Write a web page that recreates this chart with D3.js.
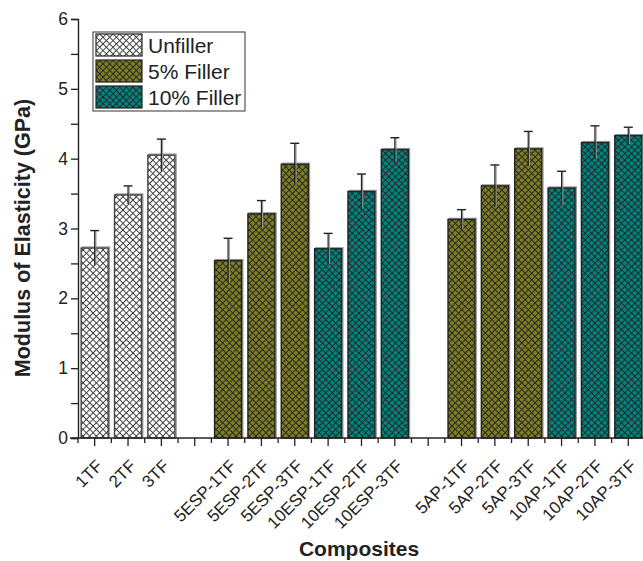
<!DOCTYPE html>
<html>
<head>
<meta charset="utf-8">
<script src="https://cdn.jsdelivr.net/npm/d3@7"></script>
<style>
html,body{margin:0;padding:0;background:#fff;}
svg{display:block;font-family:"Liberation Sans",Arial,sans-serif;}
</style>
</head>
<body>
<svg id="chart" width="643" height="561"></svg>
<script>
// ---- data ----
const categories = ["1TF","2TF","3TF",null,"5ESP-1TF","5ESP-2TF","5ESP-3TF","10ESP-1TF","10ESP-2TF","10ESP-3TF",null,"5AP-1TF","5AP-2TF","5AP-3TF","10AP-1TF","10AP-2TF","10AP-3TF"];
const values   = [2.72,3.48,4.05,null,2.54,3.21,3.92,2.71,3.53,4.13,null,3.13,3.61,4.14,3.58,4.23,4.33];
const errors   = [0.25,0.13,0.23,null,0.32,0.19,0.30,0.22,0.25,0.17,null,0.14,0.30,0.25,0.24,0.24,0.12];
const groups   = [0,0,0,null,1,1,1,2,2,2,null,1,1,1,2,2,2];
const seriesNames = ["Unfiller","5% Filler","10% Filler"];
const seriesColors = ["#ffffff","#7d7d22","#00827e"];
const yTicks = [0,1,2,3,4,5,6];

const svg = d3.select("#chart");
const x = d3.scaleBand().domain(d3.range(categories.length)).range([78, 78 + 17*33.35]).paddingInner(0.19).paddingOuter(0.095);
const y = d3.scaleLinear().domain([0,6]).range([438,19]);

// patterns
const defs = svg.append("defs");
seriesColors.forEach((c,i)=>{
  const s = 4.7;
  const p = defs.append("pattern").attr("id","pat"+i)
    .attr("patternUnits","userSpaceOnUse").attr("width",s).attr("height",s)
    .attr("patternTransform","rotate(45)");
  p.append("rect").attr("width",s).attr("height",s).attr("fill",c);
  const lc = i===0 ? "#3c3c3c" : "#262626";
  p.append("line").attr("x1",0).attr("y1",0).attr("x2",0).attr("y2",s).attr("stroke",lc).attr("stroke-width",1.9);
  p.append("line").attr("x1",0).attr("y1",0).attr("x2",s).attr("y2",0).attr("stroke",lc).attr("stroke-width",1.9);
});

const idx = d3.range(categories.length).filter(i=>values[i]!==null);

// bar shadows
svg.append("g").selectAll("rect").data(idx).join("rect")
  .attr("x",i=>x(i)+1.2).attr("y",i=>y(values[i])-1)
  .attr("width",x.bandwidth()).attr("height",i=>y(0)-y(values[i]))
  .attr("fill","none").attr("stroke","#9a9a9a").attr("stroke-width",1.4);
// bars
svg.append("g").selectAll("rect").data(idx).join("rect")
  .attr("x",i=>x(i)).attr("y",i=>y(values[i]))
  .attr("width",x.bandwidth()).attr("height",i=>y(0)-y(values[i]))
  .attr("fill",i=>`url(#pat${groups[i]})`)
  .attr("stroke",i=>groups[i]===0?"#444":"#222").attr("stroke-width",1.4);

// error bars
const eg = svg.append("g");
idx.forEach(i=>{
  const cx = x(i)+x.bandwidth()/2;
  eg.append("line").attr("x1",cx+1.2).attr("x2",cx+1.2)
    .attr("y1",y(values[i]-errors[i])).attr("y2",y(values[i]+errors[i]))
    .attr("stroke","#999").attr("stroke-width",1.2);
  eg.append("line").attr("x1",cx).attr("x2",cx)
    .attr("y1",y(values[i]-errors[i])).attr("y2",y(values[i]+errors[i]))
    .attr("stroke","#222").attr("stroke-width",1.2);
  eg.append("line").attr("x1",cx-4.5).attr("x2",cx+4.5)
    .attr("y1",y(values[i]+errors[i])).attr("y2",y(values[i]+errors[i]))
    .attr("stroke","#222").attr("stroke-width",1.4);
});

// y axis
const yAxis = d3.axisLeft(y).tickValues(d3.range(0,6.01,0.5)).tickSize(7)
  .tickFormat(d=> yTicks.includes(d) ? d : "");
const ya = svg.append("g").attr("transform","translate(78,0)").call(yAxis);
ya.attr("font-size",null).attr("font-family",null);
ya.select(".domain").attr("stroke","#222").attr("stroke-width",1.4);
ya.selectAll(".tick line").attr("stroke","#222").attr("stroke-width",1.3);
ya.selectAll(".tick text").attr("font-size",17.5).attr("fill","#222").attr("x",-10);

// x axis: center ticks (long) and boundary ticks (short)
const xg = svg.append("g");
xg.append("line").attr("x1",70).attr("x2",643).attr("y1",438).attr("y2",438).attr("stroke","#222").attr("stroke-width",1.4);
const step = x.step();
d3.range(categories.length).forEach(i=>{
  const cx = x(i)+x.bandwidth()/2;
  const bx = cx - step/2;
  xg.append("line").attr("x1",cx).attr("x2",cx).attr("y1",438).attr("y2",446).attr("stroke","#222").attr("stroke-width",1.3);
  xg.append("line").attr("x1",bx).attr("x2",bx).attr("y1",438).attr("y2",443).attr("stroke","#222").attr("stroke-width",1.3);
  if(categories[i]){
    xg.append("text").attr("transform",`translate(${cx+9},${467}) rotate(-45)`)
      .attr("text-anchor","end").attr("font-size",17).attr("fill","#222").text(categories[i]);
  }
});

// axis titles
svg.append("text").attr("x",359).attr("y",556).attr("text-anchor","middle")
  .attr("font-size",21).attr("font-weight","bold").attr("fill","#222").text("Composites");
svg.append("text").attr("transform","translate(30,238) rotate(-90)").attr("text-anchor","middle")
  .attr("font-size",21.5).attr("font-weight","bold").attr("fill","#222").text("Modulus of Elasticity (GPa)");

// legend
const lg = svg.append("g");
lg.append("rect").attr("x",93).attr("y",32).attr("width",152).attr("height",79)
  .attr("fill","#fff").attr("stroke","#333").attr("stroke-width",1);
seriesNames.forEach((n,i)=>{
  const yy = 34 + i*26;
  lg.append("rect").attr("x",96).attr("y",yy).attr("width",46).attr("height",22)
    .attr("fill",`url(#pat${i})`).attr("stroke","#222").attr("stroke-width",1.2);
  lg.append("text").attr("x",148).attr("y",yy+19).attr("font-size",21).attr("fill","#222").text(n);
});
</script>
</body>
</html>
